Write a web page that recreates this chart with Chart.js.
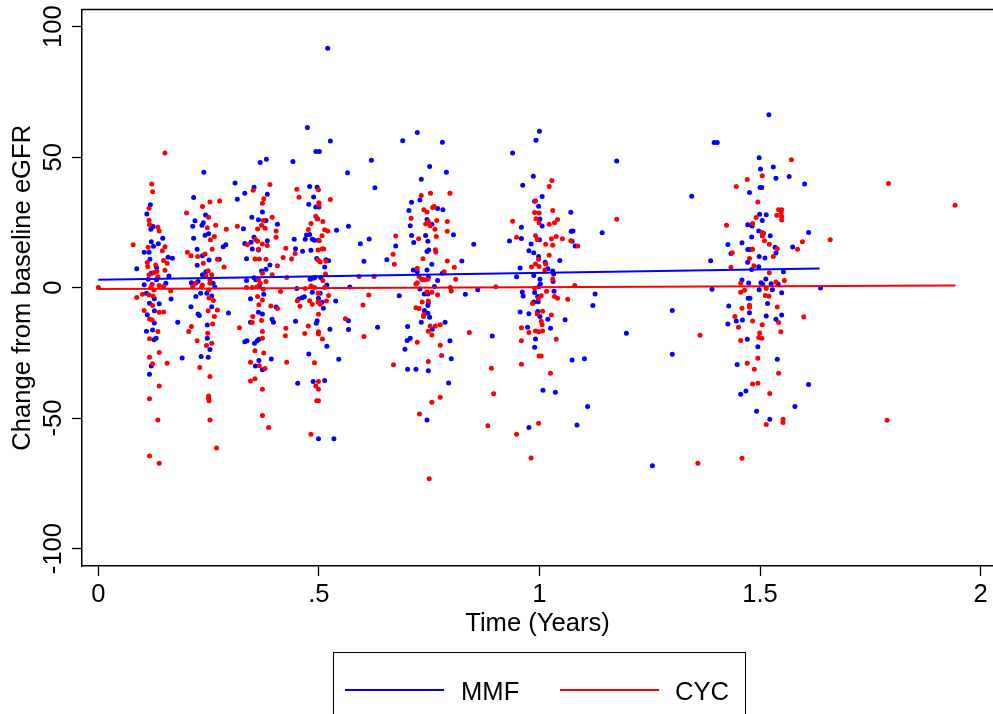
<!DOCTYPE html>
<html>
<head>
<meta charset="utf-8">
<script src="https://cdn.jsdelivr.net/npm/chart.js@4.4.1/dist/chart.umd.min.js"></script>
<style>
    body { margin: 0; background: #fff; overflow: hidden; font-family: "Liberation Sans", Arial, sans-serif; }
    #wrap { position: relative; width: 993px; height: 714px; }
    #legend { position: absolute; left: 333px; top: 652px; width: 413px; height: 80px; border: 1.5px solid #000; box-sizing: border-box; }
    .key { position: absolute; top: 35.5px; width: 99px; height: 2px; }
    .lbl { position: absolute; top: 22.6px; font-size: 25.6px; line-height: 30px; color: #000; }
</style>
</head>
<body>
<div id="wrap">
    <canvas id="chart" width="993" height="714"></canvas>
    <div id="legend">
        <div class="key" style="left:11px;background:#0000ff"></div>
        <div class="lbl" style="left:127px">MMF</div>
        <div class="key" style="left:226px;background:#ff0000"></div>
        <div class="lbl" style="left:341px">CYC</div>
    </div>
</div>
<script>
// axis ticks
const xTicks = [0, 0.5, 1, 1.5, 2];
const xTickLabels = ['0', '.5', '1', '1.5', '2'];
const yTicks = [-100, -50, 0, 50, 100];
const yTickLabels = ['-100', '-50', '0', '50', '100'];

// fitted lines [time, change]
const mmfFitTime = [0, 1.635];
const mmfFitChange = [3.0, 7.3];
const cycFitTime = [0, 1.943];
const cycFitChange = [-0.5, 0.8];

// MMF observations [time (years), change from baseline eGFR]
const mmfPoints = [
    [.118,31.8],[.11,28.2],[.124,23.4],[.119,22.4],[.146,18.9],[.12,17.6],[.136,16.8],[.125,15.9],[.104,13.6],[.115,13.6],
    [.158,11.6],[.168,11.3],[.117,10.9],[.132,7.7],[.087,7.2],[.12,5.5],[.16,4.5],[.113,3.2],[.132,3],[.153,1.7],
    [.104,1.1],[.109,-2.2],[.165,-4.4],[.127,-4.3],[.116,-6],[.138,-6.2],[.127,-8.9],[.111,-10.4],[.18,-13.3],[.127,-13.6],
    [.123,-16.2],[.109,-16.7],[.131,-19.4],[.126,-20],[.19,-27],[.12,-30],[.116,-33.2],
    [.367,48],[.381,49.2],[.239,44.2],[.31,40.1],[.332,36.2],[.353,38.5],[.383,35.8],[.216,34.5],[.315,33.9],[.372,29],
    [.243,27.8],[.348,27],[.219,25.6],[.238,24.9],[.363,26],[.38,25.7],[.406,24.3],[.214,23.5],[.235,23.9],[.25,20.6],
    [.242,20.1],[.329,22.6],[.216,18.9],[.353,19.3],[.383,18],[.346,17.4],[.332,16.9],[.289,16.4],[.283,15.7],[.224,14.7],
    [.349,14.8],[.363,14.4],[.236,12.2],[.251,10.6],[.274,10.9],[.336,11.1],[.224,8.6],[.389,8.7],[.38,7],[.37,6.4],
    [.244,6.1],[.236,4.9],[.353,3.8],[.357,3],[.336,2.7],[.226,2.3],[.211,1.9],[.26,1.7],[.264,0.2],[.365,0.7],
    [.232,-2.2],[.246,-2.2],[.221,-3.4],[.257,-3.2],[.345,-4.3],[.375,-2.5],[.21,-7.3],[.257,-7.3],[.403,-7.4],[.363,-9.4],
    [.226,-10.1],[.372,-10.1],[.295,-9.7],[.229,-10.7],[.247,-14.3],[.394,-12.1],[.397,-13.3],[.345,-13.3],[.247,-19.4],[.253,-23.7],
    [.233,-26.4],[.249,-26.7],[.332,-20.7],[.337,-20.4],[.354,-21.3],[.36,-20.4],[.364,-19.8],[.392,-27.4],[.364,-27.9],[.356,-30],
    [.372,-31.5],
    [.52,91.7],[.474,61.4],[.526,56.2],[.493,52.2],[.501,52.2],[.441,48.3],[.619,48.8],[.565,44],[.627,38.3],[.479,38.8],
    [.496,38.5],[.488,34.7],[.477,32],[.493,30.9],[.5,30.9],[.497,26.3],[.54,22],[.567,23.5],[.444,18.5],[.469,18.5],
    [.472,20.2],[.479,20.4],[.485,18.5],[.49,18.2],[.499,18.2],[.614,18.6],[.594,16.8],[.447,14.9],[.463,13.9],[.482,14.3],
    [.602,10.1],[.654,10.7],[.495,11.2],[.516,10.7],[.522,10.3],[.513,7.9],[.504,3.9],[.48,3.2],[.486,3.6],[.491,3.9],
    [.518,1],[.45,-0.3],[.57,0.2],[.485,-1.8],[.503,-2.2],[.499,-4.1],[.454,-4.4],[.462,-3.9],[.467,-3.5],[.507,-5.6],
    [.538,-5.1],[.51,-7.9],[.494,-13.7],[.496,-12.7],[.447,-12.9],[.567,-12.7],[.567,-16.1],[.633,-15.2],[.525,-16],[.518,-22.5],
    [.477,-25.4],[.545,-27.5],[.452,-36.7],[.487,-36],[.513,-35.6],[.499,-57.9],[.534,-57.9],
    [.723,59.5],[.69,56.3],[.78,55.7],[.751,46.4],[.789,44.2],[.732,41.5],[.71,32.7],[.729,33.6],[.704,29.6],[.769,30.3],
    [.781,29.8],[.745,26.1],[.756,24.3],[.707,23.7],[.805,20.3],[.71,20],[.742,20],[.747,17.8],[.715,17.3],[.674,16],
    [.851,16.6],[.749,14.4],[.745,13.8],[.824,10.2],[.756,9],[.714,6.8],[.723,6.1],[.745,6.8],[.78,5.5],[.748,4],
    [.735,3.2],[.769,2.7],[.762,0.4],[.729,-0.5],[.86,-0.8],[.682,-3.1],[.739,-2.4],[.747,-2.4],[.832,-2.5],[.748,-5.7],
    [.747,-6.9],[.739,-8.8],[.747,-9.8],[.751,-11.4],[.732,-13.3],[.786,-13.3],[.701,-14.9],[.757,-16],[.707,-19.4],[.7,-20.3],
    [.797,-20.4],[.695,-23.6],[.8,-27.3],[.701,-31.3],[.72,-31.3],[.748,-31.9],[.794,-36.6],[.745,-50.7],
    [1.0,59.9],[.992,56.5],[.939,51.6],[.986,42.7],[.962,39.2],[1.006,34.9],[.989,33.1],[.998,31.2],[1.071,28.9],[1.001,26.3],
    [1.006,23.6],[.959,23.1],[1.076,21.7],[1.072,21.6],[.959,18.8],[.932,17.9],[1.0,18.3],[1.074,17.8],[1.081,16],[.981,16.7],
    [.976,14.1],[.987,13.4],[.998,11.9],[1.046,10.4],[1.013,9.7],[.956,7.5],[1.019,7.2],[1.03,6.4],[.987,4.6],[.948,4.2],
    [1.032,5.2],[1.001,3.2],[1.031,2.3],[1.002,1.4],[.999,0.4],[1.033,-1.4],[.989,-1.9],[.961,-1.7],[.963,-3.2],[1.126,-2.4],
    [.996,-3.4],[1.121,-6.9],[.987,-5.5],[.997,-5.4],[.956,-9.3],[.976,-10],[.996,-9.2],[1.001,-11.1],[1.019,-12.1],[1.058,-12.3],
    [1.025,-15.6],[.973,-15.2],[.991,-19.7],[.893,-18.5],[.989,-22.9],[1.074,-27.7],[1.102,-27.3],[1.008,-39.3],[1.036,-40.1],[1.109,-45.6],
    [1.085,-52.7],[.976,-53.6],
    [1.175,48.5],[1.345,35],[1.142,21],[1.301,-8.8],[1.197,-17.5],[1.301,-25.5],[1.256,-68.3],
    [1.52,66.3],[1.396,55.6],[1.403,55.6],[1.498,49.8],[1.501,45.5],[1.53,46.2],[1.536,41.9],[1.566,42.6],[1.601,39.7],[1.476,36.5],
    [1.5,38.4],[1.504,38.4],[1.499,28.1],[1.514,27.9],[1.505,25.7],[1.472,24.1],[1.482,23.6],[1.497,21.7],[1.523,19.9],[1.481,19.4],
    [1.61,21.1],[1.427,16.5],[1.459,17.2],[1.574,15.6],[1.534,15.5],[1.536,13.3],[1.472,14.6],[1.477,14.6],[1.434,13.1],[1.498,11.9],
    [1.511,11.4],[1.388,10.3],[1.472,9.7],[1.497,8],[1.481,6.9],[1.553,6.1],[1.459,2.9],[1.474,1.8],[1.502,1.9],[1.513,3.3],
    [1.525,1.5],[1.541,1.4],[1.506,1.3],[1.391,-0.6],[1.498,-0.8],[1.528,-0.8],[1.549,-2],[1.637,-0.1],[1.473,-4.1],[1.477,-4.1],
    [1.517,-6.1],[1.476,-9.6],[1.549,-10.5],[1.429,-7],[1.514,-10.9],[1.46,-12.4],[1.446,-12.8],[1.427,-13.9],[1.536,-12.1],[1.471,-19.8],
    [1.495,-22.7],[1.539,-27.5],[1.448,-29.5],[1.61,-37.1],[1.456,-40.9],[1.468,-39.6],[1.579,-45.6],[1.492,-47.4],[1.522,-50.5]
];

// CYC observations [time (years), change from baseline eGFR]
const cycPoints = [
    [.151,51.6],[.121,39.7],[.123,36.7],[.115,30.4],[.115,25.8],[.116,24.2],[.135,23.1],[.138,21.7],[.079,16.4],[.151,15.7],
    [.113,15.5],[.145,14.1],[.148,10.4],[.111,9.6],[.156,9.3],[.13,8.7],[.112,8.1],[.151,6.7],[.133,6.2],[.126,5.8],
    [.115,4.9],[.135,4.2],[.122,1.3],[.138,0.8],[.148,0.4],[0,0],[.119,0],[.126,-0.9],[.164,-1.3],[.1,-2.5],
    [.115,-2.8],[.124,-3.2],[.087,-3.8],[.123,-6.9],[.104,-8.8],[.148,-9.3],[.138,-9.4],[.116,-12],[.122,-12.4],[.135,-16.8],
    [.116,-19.6],[.138,-24.9],[.116,-26.7],[.156,-29],[.123,-29.2],[.138,-37.7],[.116,-42.6],[.135,-50.7],[.116,-64.5],[.138,-67.3],
    [.389,39.5],[.351,37.3],[.275,33.2],[.253,32.8],[.236,31.1],[.375,34.1],[.372,32.3],[.2,28.6],[.25,27],[.394,27],
    [.374,25.7],[.37,23.9],[.266,23.9],[.247,22.9],[.29,22.4],[.315,23.5],[.361,22.5],[.378,22.8],[.403,21.7],[.263,19.6],
    [.254,18.3],[.403,19.3],[.356,18.4],[.361,17.8],[.372,16.7],[.383,16.1],[.338,16.4],[.363,14.7],[.258,14.7],[.425,15.1],
    [.202,13.6],[.21,12.2],[.225,11.9],[.242,12.9],[.419,11.5],[.355,11],[.365,11],[.38,10.9],[.27,10.9],[.238,9.3],
    [.285,7.9],[.406,8.4],[.249,6.5],[.257,4.9],[.244,4.5],[.372,5.5],[.394,4.9],[.253,3],[.221,1.7],[.236,1],
    [.253,1.7],[.363,3],[.367,1.7],[.38,2.3],[.214,0.4],[.234,0.2],[.336,0],[.349,0],[.359,0.2],[.374,-0.6],
    [.413,-1.5],[.25,-0.9],[.251,-4],[.261,-4.9],[.361,-3.4],[.372,-4.7],[.364,-6.6],[.391,-7],[.406,-8],[.249,-8.9],
    [.263,-11.1],[.27,-8.6],[.259,-13.9],[.35,-11.1],[.37,-12.6],[.349,-13.4],[.211,-14.9],[.32,-15.4],[.205,-16.8],[.425,-15.6],
    [.372,-16.8],[.248,-17.5],[.424,-18.4],[.372,-19.4],[.224,-20.4],[.257,-21.3],[.245,-22.2],[.355,-24.2],[.375,-25.1],[.345,-28.6],
    [.427,-28.6],[.23,-30.6],[.365,-29.9],[.378,-31],[.253,-34.1],[.355,-34.9],[.345,-35.8],[.372,-39],[.25,-41.5],[.25,-42.4],
    [.251,-43.4],[.372,-49],[.253,-50.7],[.386,-53.6],[.268,-61.5],
    [.45,37.7],[.455,34.6],[.499,37.5],[.526,33.8],[.5,32.5],[.5,31.7],[.493,27.4],[.496,26.4],[.509,25.3],[.482,24.6],
    [.476,22.3],[.513,22.2],[.52,21.7],[.507,19.9],[.501,18],[.507,14.8],[.511,14.8],[.498,14.4],[.446,13.1],[.438,11],
    [.498,10.6],[.503,9.8],[.516,10.1],[.515,5.2],[.427,3.9],[.591,4.3],[.625,4.3],[.509,2.7],[.482,0.6],[.469,-0.3],
    [.49,0],[.513,0],[.498,-2.2],[.522,-3],[.613,-2.8],[.451,-5],[.479,-5],[.498,-5.5],[.517,-5.1],[.485,-6.4],
    [.503,-6.4],[.457,-7.1],[.6,-6.7],[.499,-10.2],[.56,-11.9],[.476,-14.7],[.468,-17.6],[.499,-16.9],[.499,-17.8],[.508,-19.7],
    [.602,-18.7],[.49,-28.8],[.499,-36],[.493,-37.7],[.499,-39],[.495,-43.4],[.499,-43.4],[.482,-56.2],
    [.732,35.3],[.753,36.2],[.797,36.2],[.738,29.8],[.745,29],[.758,30.7],[.761,31.1],[.709,26.6],[.748,25.3],[.742,24.4],
    [.752,23.7],[.767,25.7],[.791,25.3],[.763,22.4],[.791,21.6],[.674,19.8],[.726,18.7],[.766,19.6],[.764,14.5],[.765,13.7],
    [.668,12.8],[.671,9],[.736,11.1],[.791,10.2],[.807,7.8],[.723,7.4],[.784,6.1],[.727,4.3],[.733,3.2],[.739,3],
    [.747,3.2],[.723,1.9],[.72,1.4],[.81,3.2],[.798,0],[.8,-1.3],[.745,-1.7],[.756,-1.8],[.769,-2.7],[.734,-5.5],
    [.748,-5.1],[.72,-7.7],[.727,-8],[.738,-10.3],[.737,-11.1],[.752,-14.7],[.764,-14.7],[.775,-14.2],[.748,-16.7],[.756,-18.2],
    [.841,-17.2],[.723,-20.9],[.775,-22.1],[.778,-26],[.669,-29.6],[.748,-28.3],[.775,-42],[.756,-43.9],[.728,-48.4],[.75,-73.3],
    [1.028,41.1],[1.022,38.8],[.991,33.2],[.989,28.8],[.999,28.6],[1.03,29.6],[.992,26.4],[.939,25.4],[1.041,26.1],[.999,24.9],
    [1.022,24.3],[1.034,24.9],[.991,19.9],[.995,18.4],[.948,19.3],[1.027,18.7],[1.038,19.6],[1.052,18.7],[1.071,18],[1.014,16.6],
    [1.03,16.2],[1.087,16],[1.022,12.4],[.998,10.9],[.991,9.1],[1.014,9.1],[.999,8.1],[.982,7.9],[1.012,6.8],[1.03,3.3],
    [.989,-0.2],[.901,0.3],[1.08,0.8],[1.016,-1.4],[1.004,-3.1],[.997,-4.3],[1.034,-3.4],[1.041,-4.1],[1.064,-4.5],[.984,-6.1],
    [.995,-10.1],[1.007,-9.1],[1.027,-10.5],[1.004,-12.9],[1.006,-14.2],[.959,-15.4],[.976,-17.2],[.991,-16.6],[.998,-16.9],[1.007,-16.6],
    [.959,-20.4],[1.038,-19.8],[.999,-26.2],[1.004,-26.2],[.959,-29.4],[.891,-30.9],[1.025,-32.8],[.896,-40.7],[.883,-52.9],[.998,-52],
    [.948,-56.2],[.981,-65.3],
    [1.175,26.2],[1.359,-67.3],
    [1.571,49],[1.505,42.9],[1.471,41.4],[1.446,38.8],[1.495,32.8],[1.542,29.8],[1.549,29.8],[1.548,28.6],[1.538,27.7],[1.549,27.3],
    [1.549,25.9],[1.491,26.9],[1.483,24.6],[1.424,23.9],[1.508,20.8],[1.505,19.8],[1.51,18],[1.505,21.1],[1.521,16.6],[1.539,14.9],
    [1.483,14.7],[1.437,13.4],[1.53,11.9],[1.476,11.2],[1.596,17.6],[1.585,14.7],[1.659,18.3],[1.486,8.4],[1.434,7.8],[1.521,5.7],
    [1.555,2.7],[1.536,2.2],[1.456,1.7],[1.465,-1],[1.456,-1.8],[1.514,-0.3],[1.512,-3],[1.52,-3.3],[1.476,-6.8],[1.476,-7.5],
    [1.459,-7.9],[1.539,-7.4],[1.443,-11.1],[1.483,-12.8],[1.451,-15.2],[1.542,-13.4],[1.599,-11.2],[1.505,-14.2],[1.547,-16.9],[1.499,-17.4],
    [1.497,-19.1],[1.504,-19.4],[1.456,-20.3],[1.364,-18.3],[1.495,-27.1],[1.471,-29],[1.487,-31.3],[1.542,-32.8],[1.483,-36.9],[1.495,-36.7],
    [1.522,-40.6],[1.552,-50.5],[1.552,-51.7],[1.514,-52.5],[1.459,-65.4],
    [1.791,39.9],[1.942,31.6],[1.788,-50.8]
];

const toXY = arr => arr.map(p => ({x: p[0], y: p[1]}));
const fitXY = (t, c) => t.map((v, i) => ({x: v, y: c[i]}));

const fontBase = {family: '"Liberation Sans", Arial, sans-serif', size: 25.6};

// top edge of the plot region
const frameTop = {
    id: 'frameTop',
    afterDraw(chart) {
        const {ctx, chartArea} = chart;
        ctx.save();
        ctx.strokeStyle = '#000';
        ctx.lineWidth = 1.5;
        ctx.beginPath();
        ctx.moveTo(chartArea.left, chartArea.top);
        ctx.lineTo(chartArea.right + 2, chartArea.top);
        ctx.stroke();
        ctx.restore();
    }
};

const ctx = document.getElementById('chart');
const chart = new Chart(ctx, {
    type: 'scatter',
    data: {
        datasets: [
            {type: 'line', label: 'MMF', data: fitXY(mmfFitTime, mmfFitChange), borderColor: '#0000ff', borderWidth: 2, pointRadius: 0, order: 0},
            {type: 'line', label: 'CYC', data: fitXY(cycFitTime, cycFitChange), borderColor: '#ff0000', borderWidth: 2, pointRadius: 0, order: 1},
            {label: 'CYC obs', data: toXY(cycPoints), backgroundColor: '#ff0000', borderWidth: 0, pointRadius: 2.5, order: 2},
            {label: 'MMF obs', data: toXY(mmfPoints), backgroundColor: '#0000ff', borderWidth: 0, pointRadius: 2.5, order: 3}
        ]
    },
    options: {
        responsive: false,
        animation: false,
        devicePixelRatio: 1,
        layout: {autoPadding: false, padding: {top: 9.5, left: 0, right: 0, bottom: 0}},
        plugins: {
            legend: {display: false},
            tooltip: {enabled: false}
        },
        scales: {
            x: {
                type: 'linear',
                min: -0.037,
                max: 2.028,
                afterBuildTicks: s => { s.ticks = xTicks.map(v => ({value: v})); },
                afterFit: s => { s.height = 148; },
                ticks: {
                    callback: v => xTickLabels[xTicks.indexOf(v)],
                    font: fontBase, color: '#000', padding: 4, maxRotation: 0, autoSkip: false
                },
                grid: {drawOnChartArea: false, drawTicks: true, tickLength: 10, tickColor: '#000', tickWidth: 1.3},
                border: {display: true, color: '#000', width: 1.5},
                title: {display: true, text: 'Time (Years)', font: fontBase, color: '#000', padding: {top: 0, bottom: 74.6}}
            },
            y: {
                type: 'linear',
                min: -106.7,
                max: 106.6,
                afterBuildTicks: s => { s.ticks = yTicks.map(v => ({value: v})); },
                afterFit: s => { s.width = 82; },
                ticks: {
                    callback: v => yTickLabels[yTicks.indexOf(v)],
                    font: fontBase, color: '#000', padding: -7.6, minRotation: 90, maxRotation: 90,
                    crossAlign: 'center', autoSkip: false
                },
                grid: {drawOnChartArea: false, drawTicks: true, tickLength: 10, tickColor: '#000', tickWidth: 1.3},
                border: {display: true, color: '#000', width: 1.5},
                title: {display: true, text: 'Change from baseline eGFR', font: fontBase, color: '#000', padding: {top: 7.4, bottom: 0}}
            }
        }
    },
    plugins: [frameTop]
});
</script>
</body>
</html>
